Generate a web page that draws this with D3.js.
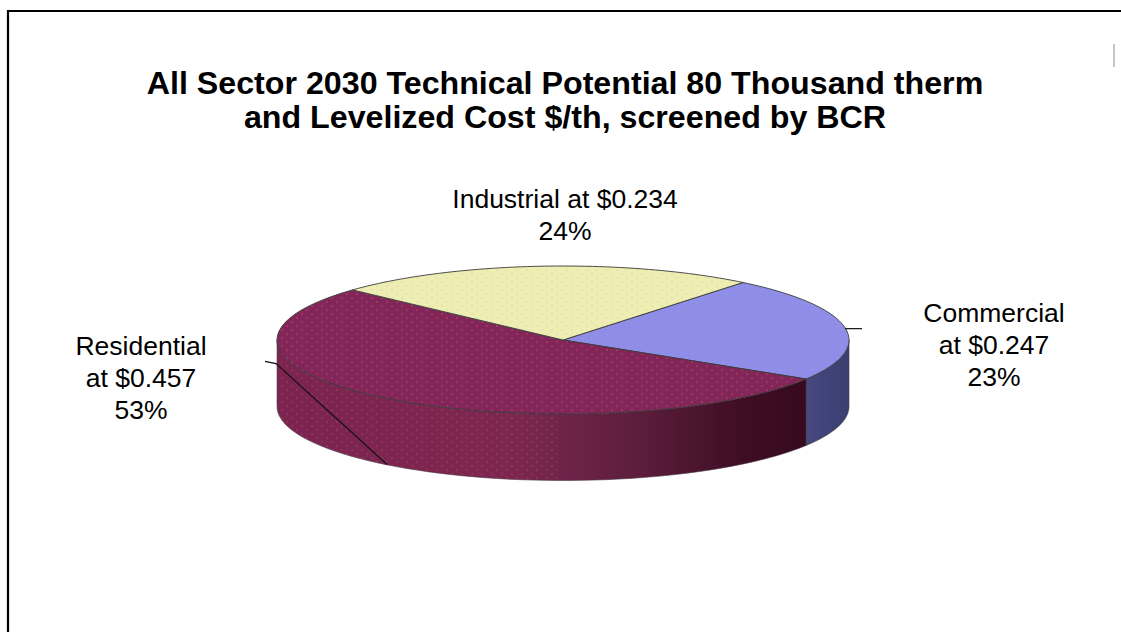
<!DOCTYPE html>
<html><head><meta charset="utf-8">
<script src="https://cdn.jsdelivr.net/npm/d3@7"></script>
<style>html,body{margin:0;padding:0;background:#fff}svg{display:block}text{font-family:"Liberation Sans",Arial,sans-serif;fill:#000}</style>
</head><body><svg id="c" width="1121" height="632"></svg>
<script>
const titleLines = ["All Sector 2030 Technical Potential 80 Thousand therm","and Levelized Cost $/th, screened by BCR"];
const sectors = ["Commercial","Residential","Industrial"];
const shares = [23,53,24];
const topColors = ["#8e8ee8","#82265a","#eeeeb2"];
const dotColors = ["#a890d8","#c84c66","#d8d0c0"];
const labelLines = [["Commercial","at $0.247","23%"],["Residential","at $0.457","53%"],["Industrial at $0.234","24%"]];
const labelPos = [[994,322],[141,355],[565,208]];

const svg = d3.select("#c");
const defs = svg.append("defs");
const cx=563, cy=340, rx=286, ry=74, depth=66.5;
const sx = d3.scaleLinear().domain([-1,1]).range([cx-rx,cx+rx]);
const sy = d3.scaleLinear().domain([-1,1]).range([cy+ry,cy-ry]);
const px = a=>sx(Math.sin(a)), py = a=>sy(Math.cos(a));
const start = 39*Math.PI/180;
const arcs = d3.pie().sort(null).startAngle(start).endAngle(start+2*Math.PI)(shares);
const samples=(a,b)=>d3.range(0,61).map(i=>a+(b-a)*i/60);
const line=d3.line().x(d=>d[0]).y(d=>d[1]);

// frame
svg.append("path").attr("d","M8,632V11H1121").attr("fill","none").attr("stroke","#000").attr("stroke-width",2.2);
svg.append("line").attr("x1",1114).attr("x2",1114).attr("y1",44).attr("y2",67).attr("stroke","#a0a0a0").attr("stroke-width",1.2);

// title
svg.append("g").selectAll("text").data(titleLines).join("text")
 .attr("x",565).attr("y",(d,i)=>94+i*33.5).attr("text-anchor","middle")
 .attr("font-size",32.2).attr("font-weight","bold").text(d=>d);

// textures
topColors.forEach((c,i)=>{
  const p=defs.append("pattern").attr("id","tex"+i).attr("width",10).attr("height",8).attr("patternUnits","userSpaceOnUse");
  p.append("rect").attr("width",10).attr("height",8).attr("fill",c);
  p.append("circle").attr("cx",2).attr("cy",2).attr("r",.85).attr("fill",dotColors[i]).attr("opacity",.8);
  p.append("circle").attr("cx",7).attr("cy",6).attr("r",.85).attr("fill",dotColors[i]).attr("opacity",.8);
});
const g1=defs.append("linearGradient").attr("id","wallR").attr("gradientUnits","userSpaceOnUse")
 .attr("x1",cx-rx).attr("x2",px(arcs[0].endAngle)).attr("y1",0).attr("y2",0);
[[0,"#7c2450"],[.45,"#7c2750"],[.68,"#5c1e3c"],[.88,"#3e0d24"],[1,"#380a1e"]].forEach(s=>g1.append("stop").attr("offset",s[0]).attr("stop-color",s[1]));
const g2=defs.append("linearGradient").attr("id","wallC").attr("gradientUnits","userSpaceOnUse")
 .attr("x1",px(arcs[0].endAngle)).attr("x2",cx+rx).attr("y1",0).attr("y2",0);
[[0,"#45497f"],[1,"#3a3e70"]].forEach(s=>g2.append("stop").attr("offset",s[0]).attr("stop-color",s[1]));
const wd=defs.append("pattern").attr("id","wallDots").attr("width",10).attr("height",8).attr("patternUnits","userSpaceOnUse");
wd.append("circle").attr("cx",2).attr("cy",2).attr("r",.85).attr("fill","#c84a66").attr("opacity",.55);
wd.append("circle").attr("cx",7).attr("cy",6).attr("r",.85).attr("fill","#c84a66").attr("opacity",.55);

const pie=svg.append("g");
// walls (front half of the ellipse only)
const front=[Math.PI/2,3*Math.PI/2];
[[0,"url(#wallC)"],[1,"url(#wallR)"]].forEach(([i,fill])=>{
  const a0=Math.max(arcs[i].startAngle,front[0]), a1=Math.min(arcs[i].endAngle,front[1]);
  const top=samples(a0,a1).map(a=>[px(a),py(a)]);
  const bot=samples(a1,a0).map(a=>[px(a),py(a)+depth]);
  pie.append("path").attr("d",line(top.concat(bot))+"Z").attr("fill",fill).attr("stroke","#4a3a44").attr("stroke-width",.6);
  if(i===1){
    const a2=a1-(a1-a0)*.6;
    const t2=samples(a2,a1).map(a=>[px(a),py(a)]), b2=samples(a1,a2).map(a=>[px(a),py(a)+depth]);
    pie.append("path").attr("d",line(t2.concat(b2))+"Z").attr("fill","url(#wallDots)");
  }
});
// top faces
arcs.forEach((d,i)=>{
  const pts=[[sx(0),sy(0)]].concat(samples(d.startAngle,d.endAngle).map(a=>[px(a),py(a)]));
  pie.append("path").attr("d",line(pts)+"Z").attr("fill",`url(#tex${i})`).attr("stroke","#3a3a3a").attr("stroke-width",.9).attr("stroke-linejoin","round");
});
// leaders
const mid=d=>(d.startAngle+d.endAngle)/2;
const mC=mid(arcs[0]), mR=mid(arcs[1]);
svg.append("path").attr("d",line([[px(mC),py(mC)+1],[px(mC)+17,py(mC)+1]])).attr("fill","none").attr("stroke","#111").attr("stroke-width",1.2);
svg.append("path").attr("d",line([[px(mR)-3,py(mR)+depth-1],[sx(-1)-1,sy(-.32)],[sx(-1)-12,sy(-.29)]])).attr("fill","none").attr("stroke","#111").attr("stroke-width",1.2);

// labels
labelLines.forEach((ls,i)=>{
  const t=svg.append("text").attr("text-anchor","middle").attr("font-size",26.5);
  ls.forEach((s,j)=>t.append("tspan").attr("x",labelPos[i][0]).attr("y",labelPos[i][1]+j*32).text(s));
});
</script></body></html>
